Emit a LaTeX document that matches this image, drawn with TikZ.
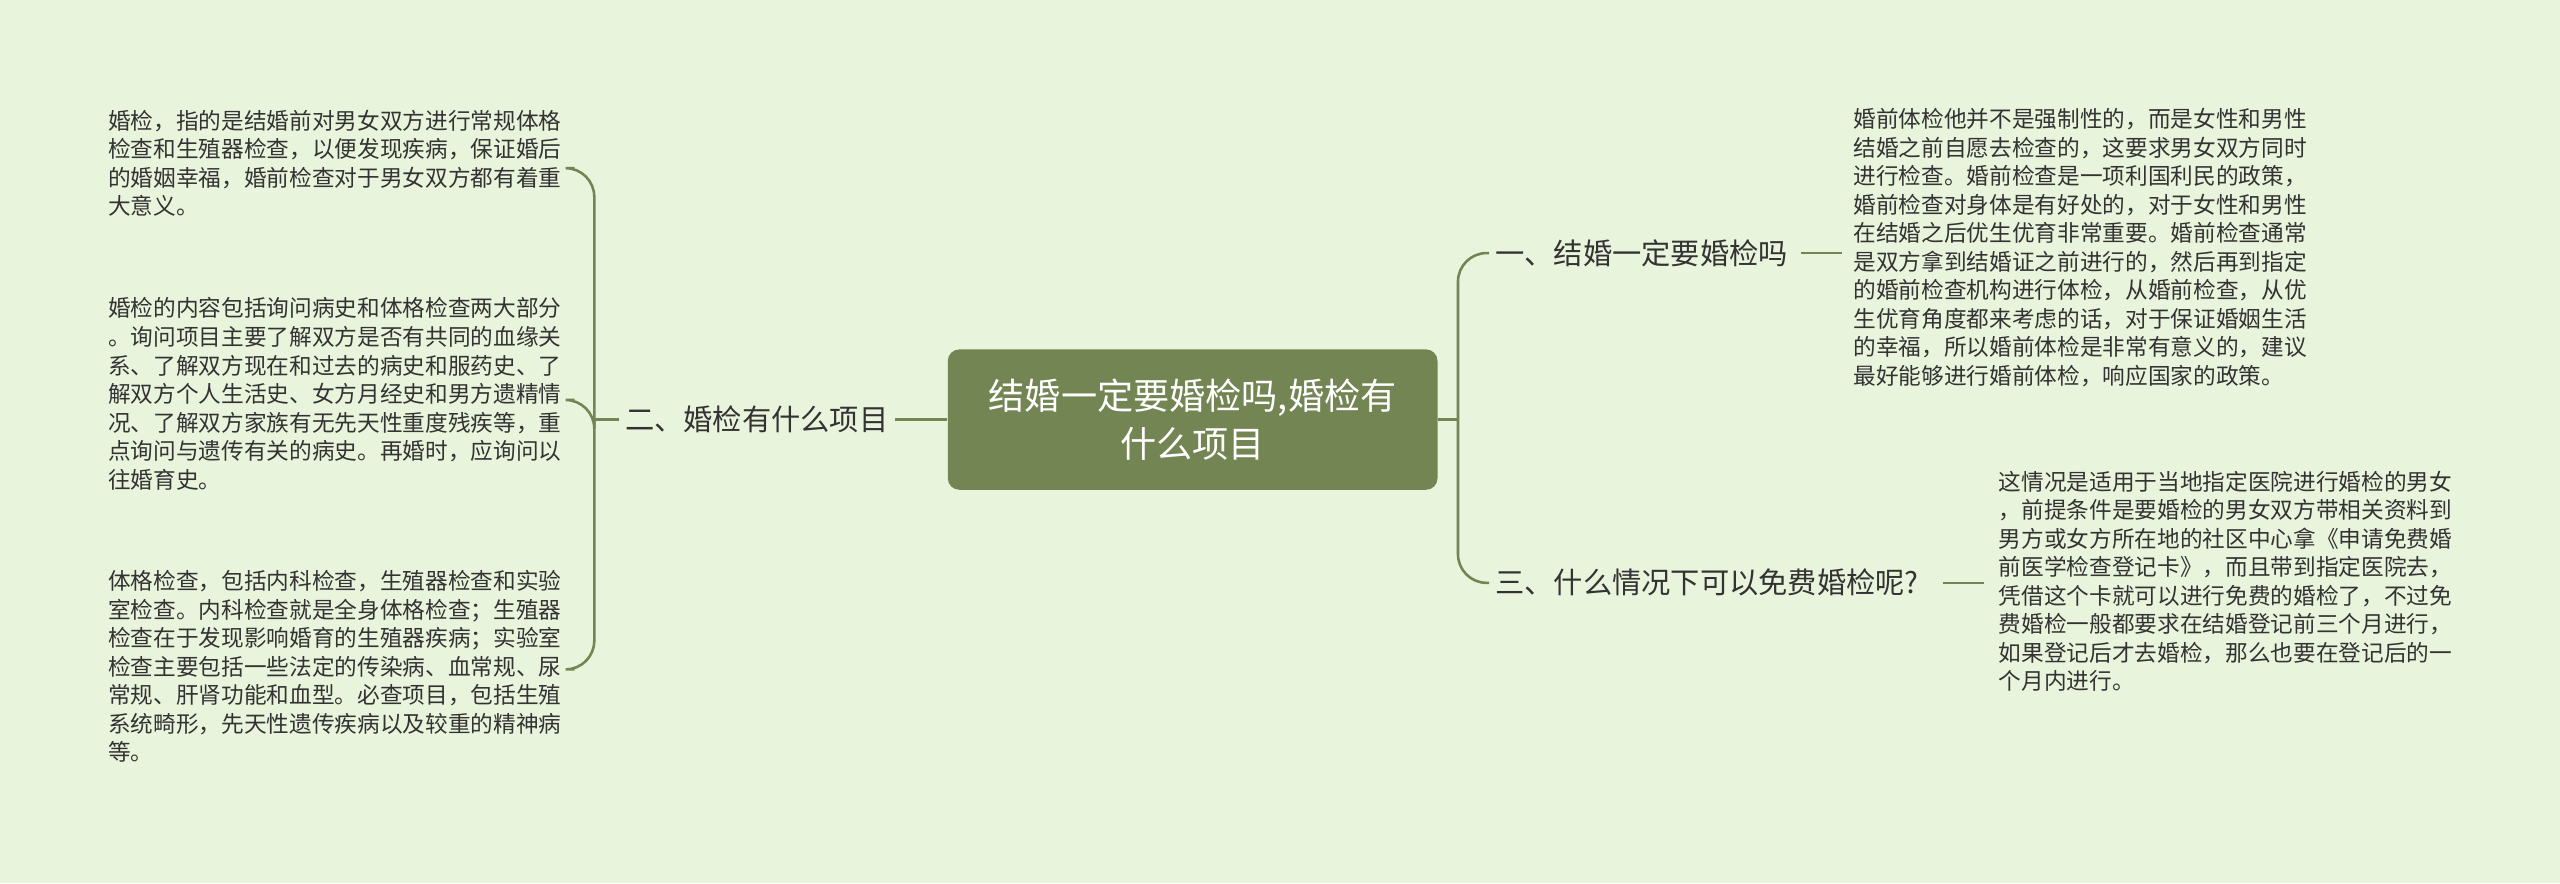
\documentclass[tikz,border=0pt]{standalone}
\usepackage{fontspec}
\setmainfont{Noto Sans CJK SC}
\definecolor{bg}{HTML}{E9F4DC}
\definecolor{olive}{HTML}{738553}
\definecolor{txt}{HTML}{333333}
\begin{document}
\begin{tikzpicture}[x=0.02cm,y=-0.02cm,
  body/.style={anchor=north west,inner sep=0pt,align=left,font=\fontsize{7.9pt}{9.95pt}\selectfont,text=txt},
  lbl/.style={inner sep=2pt,font=\fontsize{10.2pt}{12pt}\selectfont,text=txt},
  conn/.style={draw=olive,line width=0.9pt,rounded corners=10pt}]
\fill[bg] (0,0) rectangle (1568,541);
\useasboundingbox (0,0) rectangle (1568,541);
\node[fill=olive,rounded corners=4pt,minimum width=6cm,minimum height=1.72cm,text=white,align=center,font=\fontsize{12.6pt}{17pt}\selectfont] (c) at (730.5,257) {结婚一定要婚检吗,婚检有\\什么项目};
\node[lbl,anchor=east] (l) at (548,257) {二、婚检有什么项目};
\node[lbl,anchor=west] (r1) at (912,155) {一、结婚一定要婚检吗};
\node[lbl,anchor=west] (r3) at (912,357) {三、什么情况下可以免费婚检呢?};
\node[body] (t1) at (66,67) {婚检，指的是结婚前对男女双方进行常规体格\\检查和生殖器检查，以便发现疾病，保证婚后\\的婚姻幸福，婚前检查对于男女双方都有着重\\大意义。};
\node[body] (t2) at (66,182) {婚检的内容包括询问病史和体格检查两大部分\\。询问项目主要了解双方是否有共同的血缘关\\系、了解双方现在和过去的病史和服药史、了\\解双方个人生活史、女方月经史和男方遗精情\\况、了解双方家族有无先天性重度残疾等，重\\点询问与遗传有关的病史。再婚时，应询问以\\往婚育史。};
\node[body] (t3) at (66,349) {体格检查，包括内科检查，生殖器检查和实验\\室检查。内科检查就是全身体格检查；生殖器\\检查在于发现影响婚育的生殖器疾病；实验室\\检查主要包括一些法定的传染病、血常规、尿\\常规、肝肾功能和血型。必查项目，包括生殖\\系统畸形，先天性遗传疾病以及较重的精神病\\等。};
\node[body] (t4) at (1135,66) {婚前体检他并不是强制性的，而是女性和男性\\结婚之前自愿去检查的，这要求男女双方同时\\进行检查。婚前检查是一项利国利民的政策，\\婚前检查对身体是有好处的，对于女性和男性\\在结婚之后优生优育非常重要。婚前检查通常\\是双方拿到结婚证之前进行的，然后再到指定\\的婚前检查机构进行体检，从婚前检查，从优\\生优育角度都来考虑的话，对于保证婚姻生活\\的幸福，所以婚前体检是非常有意义的，建议\\最好能够进行婚前体检，响应国家的政策。};
\node[body] (t5) at (1224,288) {这情况是适用于当地指定医院进行婚检的男女\\，前提条件是要婚检的男女双方带相关资料到\\男方或女方所在地的社区中心拿《申请免费婚\\前医学检查登记卡》，而且带到指定医院去，\\凭借这个卡就可以进行免费的婚检了，不过免\\费婚检一般都要求在结婚登记前三个月进行，\\如果登记后才去婚检，那么也要在登记后的一\\个月内进行。};
\coordinate (a1) at (352,103);
\coordinate (a2) at (352,245);
\coordinate (a3) at (352,410);
\coordinate (lb) at (364,257);
\draw[conn] (c.west) -- (l.east);
\draw[conn] (l.west) -- (lb);
\draw[conn] (a1) -| (lb) |- (a3);
\draw[conn] (lb) |- (a2);
\coordinate (rb) at (893,257);
\draw[conn] (c.east) -- (rb);
\draw[conn] (r1.west) -| (rb) |- (r3.west);
\draw[conn] (1103,155) -- (1128,155);
\draw[conn] (1190,357) -- (1215,357);
\end{tikzpicture}
\end{document}
